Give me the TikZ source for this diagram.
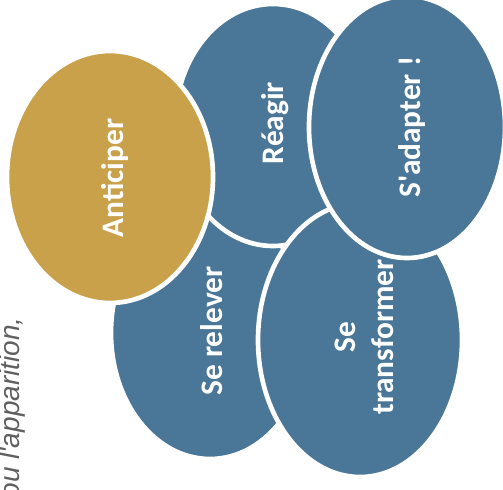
\documentclass[tikz,border=0pt]{standalone}
\usepackage{fontspec}
\usepackage{xcolor}
\newfontfamily\petalfont{Carlito}
\newfontfamily\pagefont{Liberation Sans}
\definecolor{venblue}{RGB}{74,118,151}
\definecolor{vengold}{RGB}{201,161,74}
\definecolor{pagegray}{RGB}{96,96,96}

\begin{document}
\begin{tikzpicture}[x=0.75pt,y=0.75pt,yscale=-1,xscale=1,
  petal/.style={draw=white, line width=3.5pt},
  lbl/.style={text=white, font=\petalfont\fontsize{23.5}{28.5}\selectfont\bfseries, rotate=90, inner sep=0pt, align=center}]
\useasboundingbox (0,0) rectangle (503,489);
\clip (0,0) rectangle (503,489);

% Text Node (page text behind)
\node [anchor=base east, rotate=90, inner sep=0pt, text=pagegray, font=\pagefont\fontsize{21}{25}\selectfont\itshape] (pagetxt) at (19,317) {ou l'apparition,};

%Shape: Ellipse [Se relever]
\draw [petal, fill=venblue] (210,333) ellipse [x radius=99, y radius=126];
\node [lbl] (relever) at (212,331) {Se relever};
%Shape: Ellipse [Reagir]
\draw [petal, fill=venblue] (273,125) ellipse [x radius=98, y radius=121];
\node [lbl] (reagir) at (275,123) {Réagir};
%Shape: Ellipse [Anticiper]
\draw [petal, fill=vengold] (110,177) ellipse [x radius=103, y radius=126];
\node [lbl] (anticiper) at (115,178) {Anticiper};
%Shape: Ellipse [Se transformer]
\draw [petal, fill=venblue] (360,340) ellipse [x radius=102, y radius=137];
\node [lbl] (transformer) at (364,337) {Se\\transformer};
%Shape: Ellipse [S'adapter]
\draw [petal, fill=venblue] (407,127) ellipse [x radius=98, y radius=131];
\node [lbl] (adapter) at (412,127) {S'adapter !};

\end{tikzpicture}
\end{document}
